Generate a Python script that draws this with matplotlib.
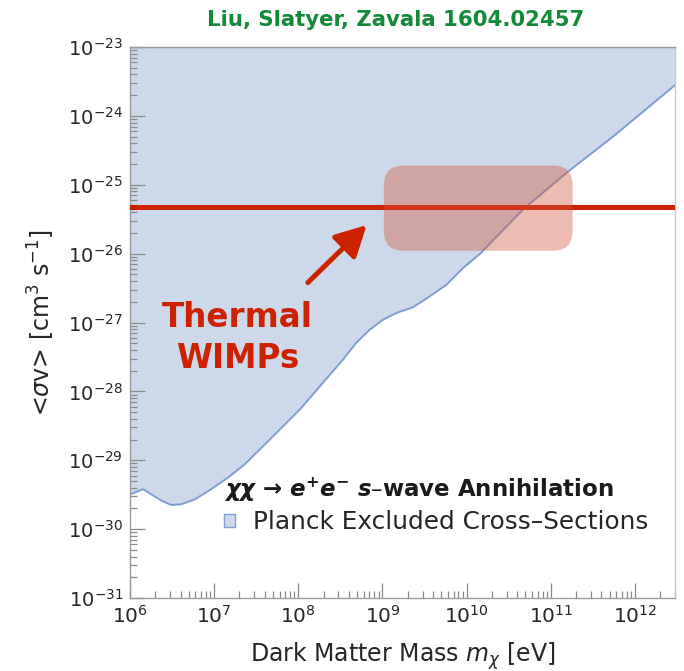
import numpy as np
import matplotlib
matplotlib.use("Agg")
import matplotlib.pyplot as plt
from matplotlib.patches import FancyBboxPatch, Patch
from matplotlib.font_manager import FontProperties
from matplotlib.ticker import LogLocator, NullFormatter, FixedLocator, FixedFormatter

# ---------------- data ----------------
mass_eV = [1.0e6, 1.14e6, 1.43e6, 1.79e6, 2.35e6, 3.1e6, 4.07e6, 5.9e6, 9.2e6,
           1.46e7, 2.3e7, 4.2e7, 1.05e8, 1.98e8, 3.4e8, 4.9e8, 7.1e8, 1.02e9,
           1.47e9, 2.3e9, 3.65e9, 5.8e9, 9.1e9, 1.45e10, 4.7e10, 1.55e11,
           5.5e11, 3.0e12]
sigma_v = [3.2e-30, 3.4e-30, 3.8e-30, 3.2e-30, 2.6e-30, 2.24e-30, 2.3e-30, 2.7e-30,
           3.8e-30, 5.6e-30, 8.7e-30, 1.8e-29, 5.5e-29, 1.35e-28, 2.9e-28, 5.1e-28,
           7.9e-28, 1.1e-27, 1.38e-27, 1.66e-27, 2.4e-27, 3.55e-27, 6.2e-27, 1.0e-26,
           4.4e-26, 1.5e-25, 5.0e-25, 2.8e-24]
sigma_top = 1e-23
thermal_sigma = 4.7e-26
wimp_box_mass = [1.04e9, 1.82e11]
wimp_box_sigma = [1.1e-26, 1.9e-25]

x_ticks = [1e6, 1e7, 1e8, 1e9, 1e10, 1e11, 1e12]
x_labels = [r'$10^{6}$', r'$10^{7}$', r'$10^{8}$', r'$10^{9}$', r'$10^{10}$', r'$10^{11}$', r'$10^{12}$']
y_ticks = [1e-31, 1e-30, 1e-29, 1e-28, 1e-27, 1e-26, 1e-25, 1e-24, 1e-23]
y_labels = [r'$10^{-31}$', r'$10^{-30}$', r'$10^{-29}$', r'$10^{-28}$', r'$10^{-27}$',
            r'$10^{-26}$', r'$10^{-25}$', r'$10^{-24}$', r'$10^{-23}$']

# ---------------- style ----------------
fill_c = '#cdd9ea'
edge_c = '#7f9ed0'
red_c = '#cc2200'
green_c = '#13893a'
text_c = '#262626'
spine_c = '#9a9a9a'

fig = plt.figure(figsize=(6.84, 6.71), dpi=100)
ax = fig.add_axes([130/684, (671-598)/671, 545/684, 551/671])
ax.set_xscale('log')
ax.set_yscale('log')
ax.set_xlim(1e6, 3e12)
ax.set_ylim(1e-31, 1e-23)

ax.fill_between(mass_eV, sigma_v, sigma_top, color=fill_c, lw=0, zorder=1)
ax.plot(mass_eV, sigma_v, color=edge_c, lw=1.4, zorder=2, solid_joinstyle='round')
ax.axhline(sigma_top, color=edge_c, lw=1.6, zorder=2)

ax.axhline(thermal_sigma, color=red_c, lw=3.6, zorder=4)

# rounded WIMP box (converted to axes fraction)
to_ax = lambda x, y: ax.transAxes.inverted().transform(ax.transData.transform((x, y)))
(bx0, by0) = to_ax(wimp_box_mass[0], wimp_box_sigma[0])
(bx1, by1) = to_ax(wimp_box_mass[1], wimp_box_sigma[1])
box = FancyBboxPatch((bx0, by0), bx1 - bx0, by1 - by0,
                     boxstyle='round,pad=0,rounding_size=0.036',
                     transform=ax.transAxes, facecolor='#d4553a', alpha=0.4,
                     edgecolor='none', zorder=5)
ax.add_patch(box)

# Thermal WIMPs annotation
ax.annotate('', xy=(6.5e8, 2.6e-26), xytext=(1.3e8, 3.8e-27),
            arrowprops=dict(arrowstyle='-|>,head_length=0.85,head_width=0.45',
                            color=red_c, lw=3.6, mutation_scale=22,
                            shrinkA=0, shrinkB=0), zorder=6)
ax.text(1.9e7, 6.0e-28, 'Thermal\nWIMPs', color=red_c, fontsize=23.5,
        fontweight='bold', ha='center', va='center', linespacing=1.32, zorder=6)

# legend
leg_title = (r'$\mathbfit{\chi\chi}$ → $\mathbfit{e}^{\mathbf{+}}\mathbfit{e}^{\mathbf{-}}$ '
             r'$\mathbfit{s}$–wave Annihilation')
leg = ax.legend(handles=[Patch(facecolor=fill_c, edgecolor=edge_c, lw=1)],
                labels=['Planck Excluded Cross–Sections'],
                loc='upper left', bbox_to_anchor=(0.173, 0.222),
                frameon=False, fontsize=17.8, handlelength=0.42, handleheight=0.42,
                handletextpad=0.75, borderpad=0, borderaxespad=0, labelspacing=0.25,
                title=leg_title, title_fontproperties=FontProperties(weight='bold', size=16.5),
                alignment='left', labelcolor=text_c)
leg.get_title().set_color('#1a1a1a')
leg.set_zorder(7)

# axes styling
for s in ax.spines.values():
    s.set_color(spine_c)
    s.set_linewidth(1.0)
ax.spines['right'].set_color('#c8c8c8')

ax.xaxis.set_major_locator(FixedLocator(x_ticks))
ax.xaxis.set_major_formatter(FixedFormatter(x_labels))
ax.yaxis.set_major_locator(FixedLocator(y_ticks))
ax.yaxis.set_major_formatter(FixedFormatter(y_labels))
ax.xaxis.set_minor_locator(LogLocator(base=10, subs=np.arange(2, 10), numticks=30))
ax.yaxis.set_minor_locator(LogLocator(base=10, subs=np.arange(2, 10), numticks=30))
ax.xaxis.set_minor_formatter(NullFormatter())
ax.yaxis.set_minor_formatter(NullFormatter())
ax.tick_params(which='both', direction='in', color='#8a8a8a', width=0.9,
               top=False, right=False, labelcolor=text_c, zorder=8)
ax.tick_params(axis='x', which='major', labelsize=14.5, pad=5)
ax.tick_params(axis='y', which='major', labelsize=14.0, pad=5)
ax.tick_params(which='major', length=10.5)
ax.tick_params(which='minor', length=5)

ax.set_xlabel(r'Dark Matter Mass $m_\chi$ [eV]', fontsize=17, color=text_c, labelpad=10)
ax.set_ylabel(r'<$\sigma$v> [cm$^3$ s$^{-1}$]', fontsize=17, color=text_c, labelpad=8)

fig.text(396/684, 1 - 20/671, 'Liu, Slatyer, Zavala 1604.02457', color=green_c,
         fontsize=15.3, fontweight='bold', ha='center', va='center')

fig.savefig('out.png', dpi=100)
